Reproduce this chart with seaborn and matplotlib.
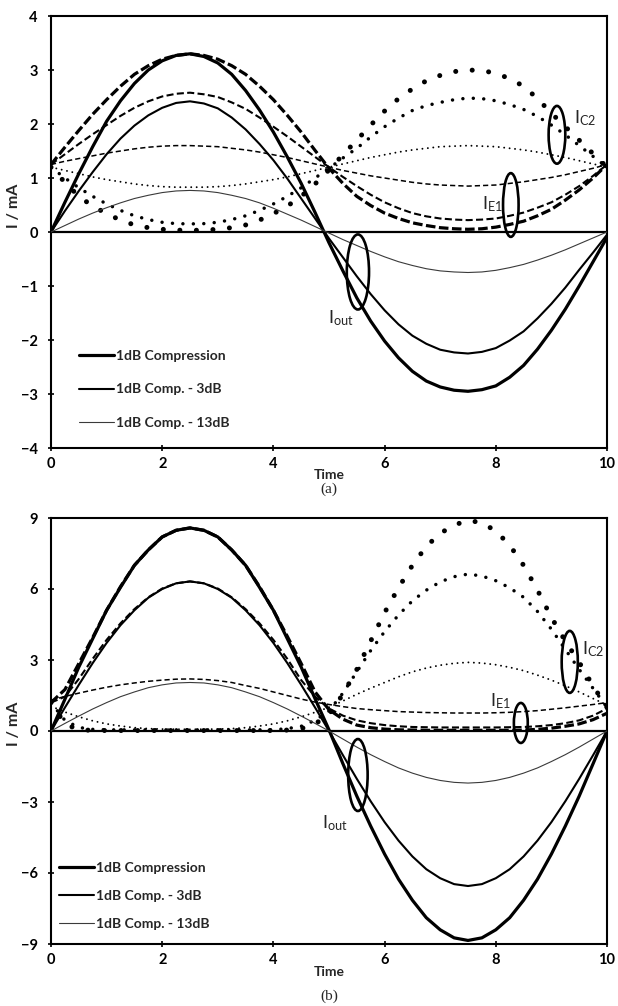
import matplotlib
matplotlib.use("Agg")
import matplotlib.pyplot as plt
from matplotlib.patches import Ellipse
import seaborn as sns

# ---- sample times -------------------------------------------------------
time = [0.0, 0.25, 0.5, 0.75, 1.0, 1.25, 1.5, 1.75, 2.0, 2.25,
        2.5, 2.75, 3.0, 3.25, 3.5, 3.75, 4.0, 4.25, 4.5, 4.75,
        5.0, 5.25, 5.5, 5.75, 6.0, 6.25, 6.5, 6.75, 7.0, 7.25,
        7.5, 7.75, 8.0, 8.25, 8.5, 8.75, 9.0, 9.25, 9.5, 9.75, 10.0]

legend_labels = ["1dB Compression", "1dB Comp. - 3dB", "1dB Comp. - 13dB"]

# ---- panel (a) currents, mA ---------------------------------------------
iout_a_1db = [0, 0.55, 1.08, 1.58, 2.05, 2.43, 2.75, 3.0, 3.17, 3.27,
              3.3, 3.25, 3.13, 2.92, 2.62, 2.26, 1.85, 1.39, 0.9, 0.36,
              -0.2, -0.72, -1.22, -1.65, -2.02, -2.33, -2.58, -2.76, -2.87, -2.93,
              -2.95, -2.92, -2.85, -2.69, -2.47, -2.17, -1.82, -1.43, -1.0, -0.55, -0.1]
iout_a_3db = [0, 0.39, 0.76, 1.11, 1.44, 1.73, 1.97, 2.16, 2.3, 2.39,
              2.42, 2.38, 2.29, 2.12, 1.9, 1.63, 1.33, 0.99, 0.62, 0.25,
              -0.12, -0.47, -0.82, -1.15, -1.45, -1.71, -1.92, -2.07, -2.18, -2.23,
              -2.25, -2.22, -2.15, -2.01, -1.84, -1.6, -1.33, -1.03, -0.7, -0.38, -0.05]
iout_a_13db = [0, 0.12, 0.24, 0.35, 0.45, 0.54, 0.62, 0.68, 0.73, 0.76,
               0.77, 0.76, 0.73, 0.68, 0.62, 0.54, 0.44, 0.33, 0.22, 0.1,
               -0.02, -0.14, -0.25, -0.36, -0.46, -0.55, -0.62, -0.68, -0.72, -0.74,
               -0.75, -0.74, -0.71, -0.66, -0.6, -0.52, -0.43, -0.33, -0.22, -0.11, 0]

ie1_a_1db = [1.25, 1.57, 1.88, 2.18, 2.45, 2.7, 2.92, 3.08, 3.2, 3.27,
             3.3, 3.27, 3.2, 3.08, 2.92, 2.7, 2.45, 2.16, 1.85, 1.51,
             1.18, 0.9, 0.66, 0.49, 0.35, 0.25, 0.17, 0.12, 0.08, 0.06,
             0.05, 0.06, 0.09, 0.14, 0.2, 0.3, 0.42, 0.59, 0.78, 1.0, 1.25]
ie1_a_3db = [1.25, 1.44, 1.63, 1.81, 1.98, 2.15, 2.3, 2.42, 2.51, 2.56,
             2.58, 2.55, 2.5, 2.4, 2.28, 2.12, 1.95, 1.77, 1.58, 1.39,
             1.2, 1.02, 0.85, 0.69, 0.55, 0.44, 0.35, 0.29, 0.25, 0.23,
             0.22, 0.23, 0.25, 0.3, 0.36, 0.45, 0.55, 0.69, 0.85, 1.04, 1.25]
ie1_a_13db = [1.25, 1.31, 1.36, 1.41, 1.46, 1.5, 1.54, 1.57, 1.59, 1.6,
              1.6, 1.59, 1.58, 1.55, 1.52, 1.48, 1.43, 1.38, 1.32, 1.26,
              1.2, 1.14, 1.09, 1.04, 1.0, 0.96, 0.92, 0.89, 0.87, 0.86,
              0.85, 0.86, 0.87, 0.9, 0.93, 0.97, 1.01, 1.06, 1.12, 1.18, 1.25]

ic2_a_1db = [1.2, 0.92, 0.66, 0.48, 0.34, 0.22, 0.13, 0.08, 0.05, 0.035,
             0.03, 0.035, 0.05, 0.08, 0.13, 0.22, 0.34, 0.48, 0.66, 0.89,
             1.15, 1.43, 1.7, 1.98, 2.24, 2.47, 2.65, 2.8, 2.9, 2.97,
             3.0, 2.99, 2.94, 2.84, 2.7, 2.47, 2.2, 1.95, 1.7, 1.45, 1.2]
ic2_a_3db = [1.2, 1.0, 0.82, 0.66, 0.52, 0.4, 0.3, 0.23, 0.18, 0.155,
             0.15, 0.155, 0.18, 0.23, 0.3, 0.4, 0.52, 0.66, 0.82, 1.0,
             1.18, 1.37, 1.55, 1.76, 1.95, 2.11, 2.25, 2.34, 2.4, 2.45,
             2.48, 2.47, 2.43, 2.36, 2.27, 2.14, 1.98, 1.8, 1.6, 1.4, 1.2]
ic2_a_13db = [1.2, 1.14, 1.08, 1.02, 0.97, 0.93, 0.89, 0.86, 0.84, 0.83,
              0.83, 0.83, 0.84, 0.86, 0.89, 0.93, 0.97, 1.02, 1.08, 1.14,
              1.2, 1.26, 1.32, 1.38, 1.43, 1.48, 1.52, 1.55, 1.58, 1.59,
              1.6, 1.59, 1.58, 1.55, 1.52, 1.48, 1.43, 1.38, 1.32, 1.26, 1.2]

# ---- panel (b) currents, mA ---------------------------------------------
iout_b_1db = [0, 1.34, 2.7, 3.9, 5.1, 6.07, 7.0, 7.65, 8.2, 8.48,
              8.58, 8.48, 8.2, 7.65, 7.0, 6.07, 5.1, 3.9, 2.7, 1.36,
              0.05, -1.38, -2.75, -4.02, -5.2, -6.26, -7.15, -7.89, -8.4, -8.74,
              -8.85, -8.74, -8.4, -7.89, -7.15, -6.26, -5.2, -4.02, -2.75, -1.38, 0]
iout_b_3db = [0, 0.99, 1.95, 2.87, 3.72, 4.47, 5.1, 5.63, 6.0, 6.24,
              6.32, 6.24, 6.0, 5.63, 5.1, 4.47, 3.72, 2.87, 1.95, 0.99,
              0, -1.02, -2.02, -2.97, -3.85, -4.63, -5.3, -5.84, -6.22, -6.47,
              -6.55, -6.47, -6.22, -5.84, -5.3, -4.63, -3.85, -2.97, -2.02, -1.02, 0]
iout_b_13db = [0, 0.32, 0.63, 0.93, 1.2, 1.45, 1.65, 1.83, 1.95, 2.03,
               2.05, 2.03, 1.95, 1.83, 1.65, 1.45, 1.2, 0.93, 0.63, 0.32,
               0, -0.34, -0.68, -1.0, -1.29, -1.56, -1.78, -1.96, -2.09, -2.17,
               -2.2, -2.17, -2.09, -1.96, -1.78, -1.56, -1.29, -1.0, -0.68, -0.34, 0]

ie1_b_1db = [1.2, 1.75, 2.85, 3.95, 5.1, 6.1, 7.0, 7.65, 8.2, 8.48,
             8.58, 8.48, 8.2, 7.65, 7.0, 6.1, 5.1, 4.0, 2.85, 1.65,
             0.9, 0.5, 0.25, 0.14, 0.08, 0.05, 0.04, 0.03, 0.03, 0.03,
             0.03, 0.03, 0.03, 0.03, 0.04, 0.07, 0.12, 0.2, 0.3, 0.48, 0.75]
ie1_b_3db = [1.2, 1.45, 2.2, 3.05, 3.85, 4.55, 5.15, 5.65, 6.02, 6.24,
             6.32, 6.24, 6.02, 5.65, 5.15, 4.55, 3.85, 3.05, 2.15, 1.45,
             0.95, 0.65, 0.45, 0.33, 0.25, 0.2, 0.17, 0.16, 0.15, 0.15,
             0.15, 0.15, 0.15, 0.16, 0.17, 0.2, 0.25, 0.33, 0.45, 0.65, 0.95]
ie1_b_13db = [1.3, 1.46, 1.6, 1.73, 1.85, 1.95, 2.03, 2.1, 2.15, 2.19,
              2.2, 2.18, 2.13, 2.05, 1.92, 1.8, 1.65, 1.5, 1.35, 1.22,
              1.12, 1.03, 0.95, 0.9, 0.86, 0.82, 0.8, 0.78, 0.77, 0.76,
              0.76, 0.76, 0.77, 0.79, 0.82, 0.86, 0.92, 0.98, 1.05, 1.12, 1.2]

ic2_b_1db = [1.2, 0.3, 0.05, 0.03, 0.02, 0.02, 0.02, 0.02, 0.02, 0.02,
             0.02, 0.02, 0.02, 0.02, 0.02, 0.02, 0.02, 0.04, 0.1, 0.3,
             0.7, 1.55, 2.6, 3.8, 5.0, 6.05, 7.0, 7.8, 8.35, 8.7,
             8.9, 8.8, 8.45, 7.85, 7.0, 5.95, 4.8, 3.8, 2.9, 1.9, 1.0]
ic2_b_3db = [1.2, 0.45, 0.15, 0.07, 0.05, 0.05, 0.05, 0.05, 0.05, 0.05,
             0.05, 0.05, 0.05, 0.05, 0.05, 0.05, 0.05, 0.1, 0.2, 0.45,
             0.85, 1.6, 2.5, 3.4, 4.2, 4.9, 5.5, 5.95, 6.3, 6.52,
             6.63, 6.55, 6.35, 6.05, 5.65, 5.05, 4.3, 3.45, 2.6, 1.8, 1.0]
ic2_b_13db = [1.05, 0.8, 0.6, 0.43, 0.3, 0.21, 0.14, 0.1, 0.08, 0.075,
              0.07, 0.075, 0.08, 0.1, 0.14, 0.21, 0.3, 0.43, 0.6, 0.79,
              1.0, 1.27, 1.55, 1.81, 2.05, 2.29, 2.5, 2.66, 2.78, 2.86,
              2.9, 2.87, 2.8, 2.69, 2.55, 2.36, 2.15, 1.91, 1.65, 1.37, 1.1]

# ---- styling -------------------------------------------------------------
sns.set_theme(style="white")
plt.rcParams["font.family"] = ["Lato", "DejaVu Sans"]
plt.rcParams["mathtext.fontset"] = "custom"
plt.rcParams["mathtext.rm"] = "Lato"
plt.rcParams["mathtext.it"] = "Lato:italic"
plt.rcParams["mathtext.bf"] = "Lato:bold"

SOLID = [dict(linewidth=2.3, color="black"),
         dict(linewidth=1.5, color="black"),
         dict(linewidth=0.8, color="#3a3a3a")]
DASHED = [dict(linewidth=2.3, color="black", linestyle=(0, (3.0, 1.1))),
          dict(linewidth=1.5, color="black", linestyle=(0, (3.4, 1.6))),
          dict(linewidth=1.1, color="black", linestyle=(0, (3.4, 2.0)))]
DOTTED = [dict(linewidth=3.6, color="black", linestyle=(0, (0.01, 3.3)),
               dash_capstyle="round"),
          dict(linewidth=2.5, color="black", linestyle=(0, (0.01, 3.0)),
               dash_capstyle="round"),
          dict(linewidth=1.4, color="black", linestyle=(0, (0.01, 2.8)),
               dash_capstyle="round")]


def style_axes(ax, ylim, yticks, ylabel_y):
    ax.set_xlim(0, 10)
    ax.set_ylim(*ylim)
    ax.set_xticks([0, 2, 4, 6, 8, 10])
    ax.set_yticks(yticks)
    ax.set_xlabel("")
    ax.set_ylabel("")
    for s in ax.spines.values():
        s.set_visible(True)
        s.set_color("black")
        s.set_linewidth(1.5)
    ax.tick_params(axis="both", direction="inout", length=5, width=1.2,
                   color="black", labelsize=10.5, labelcolor="black")
    ax.tick_params(axis="y", pad=7, left=True)
    ax.tick_params(axis="x", pad=4, bottom=True)
    for lab in ax.get_xticklabels() + ax.get_yticklabels():
        lab.set_fontweight("bold")
    ax.axhline(0, color="black", linewidth=1.6, zorder=1)
    ax.text(-0.066, ylabel_y, "I / mA", transform=ax.transAxes, rotation=90,
            ha="center", va="center", fontsize=11.5, fontweight="bold")


def draw_panel(ax, iout, ie1, ic2):
    handles = []
    for vals, st in zip(ic2, DOTTED):
        sns.lineplot(x=time, y=vals, ax=ax, zorder=2, **st)
    for vals, st in zip(ie1, DASHED):
        sns.lineplot(x=time, y=vals, ax=ax, zorder=2, **st)
    for vals, st, lab in zip(iout, SOLID, legend_labels):
        sns.lineplot(x=time, y=vals, ax=ax, zorder=3, **st)
        handles.append(ax.lines[-1])
        handles[-1].set_label(lab)
    return handles


def ring(ax, x, y, w, h):
    ax.add_patch(Ellipse((x, y), w, h, fill=False, edgecolor="black",
                         linewidth=1.9, zorder=4))


fig = plt.figure(figsize=(6.18, 10.06), dpi=100)
ax_a = fig.add_axes([51 / 618, 558 / 1006, 556 / 618, 432 / 1006])
ax_b = fig.add_axes([51 / 618, 62 / 1006, 556 / 618, 426 / 1006])

# ---- panel (a) -----------------------------------------------------------
h_a = draw_panel(ax_a, [iout_a_1db, iout_a_3db, iout_a_13db],
                 [ie1_a_1db, ie1_a_3db, ie1_a_13db],
                 [ic2_a_1db, ic2_a_3db, ic2_a_13db])
style_axes(ax_a, (-4, 4), [-4, -3, -2, -1, 0, 1, 2, 3, 4], 0.56)
leg = ax_a.legend(handles=h_a, loc="upper left", bbox_to_anchor=(0.05, 0.227),
                  frameon=False, fontsize=10, handlelength=2.5,
                  handletextpad=0.15, labelspacing=1.55, borderpad=0,
                  borderaxespad=0)
for txt in leg.get_texts():
    txt.set_fontweight("bold")

ring(ax_a, 9.10, 1.80, 0.30, 1.07)
ring(ax_a, 8.27, 0.50, 0.28, 1.18)
ring(ax_a, 5.52, -0.74, 0.40, 1.39)
ax_a.text(9.40, 2.10, r"$\mathrm{I_{C2}}$", fontsize=13, ha="left", va="center")
ax_a.text(8.12, 0.52, r"$\mathrm{I_{E1}}$", fontsize=13, ha="right", va="center")
ax_a.text(4.98, -1.60, r"$\mathrm{I_{out}}$", fontsize=13, ha="left", va="center")
ax_a.text(0.5, -27 / 432, "Time", transform=ax_a.transAxes, ha="center",
          va="center", fontsize=10, fontweight="bold")
ax_a.text(0.5, -41 / 432, "(a)", transform=ax_a.transAxes, ha="center",
          va="center", fontsize=11, family="Liberation Serif")

# ---- panel (b) -----------------------------------------------------------
h_b = draw_panel(ax_b, [iout_b_1db, iout_b_3db, iout_b_13db],
                 [ie1_b_1db, ie1_b_3db, ie1_b_13db],
                 [ic2_b_1db, ic2_b_3db, ic2_b_13db])
style_axes(ax_b, (-9, 9), [-9, -6, -3, 0, 3, 6, 9], 0.516)
leg = ax_b.legend(handles=h_b, loc="upper left", bbox_to_anchor=(0.0144, 0.1925),
                  frameon=False, fontsize=10, handlelength=2.5,
                  handletextpad=0.15, labelspacing=1.15, borderpad=0,
                  borderaxespad=0)
for txt in leg.get_texts():
    txt.set_fontweight("bold")

ring(ax_b, 9.33, 2.92, 0.29, 2.62)
ring(ax_b, 8.45, 0.34, 0.25, 1.69)
ring(ax_b, 5.52, -1.86, 0.35, 3.04)
ax_b.text(9.55, 3.45, r"$\mathrm{I_{C2}}$", fontsize=13, ha="left", va="center")
ax_b.text(8.28, 1.25, r"$\mathrm{I_{E1}}$", fontsize=13, ha="right", va="center")
ax_b.text(4.88, -3.9, r"$\mathrm{I_{out}}$", fontsize=13, ha="left", va="center")
ax_b.text(0.5, -28 / 426, "Time", transform=ax_b.transAxes, ha="center",
          va="center", fontsize=10, fontweight="bold")
ax_b.text(0.5, -52 / 426, "(b)", transform=ax_b.transAxes, ha="center",
          va="center", fontsize=11, family="Liberation Serif")

fig.savefig("out.png", dpi=100, facecolor="white")
